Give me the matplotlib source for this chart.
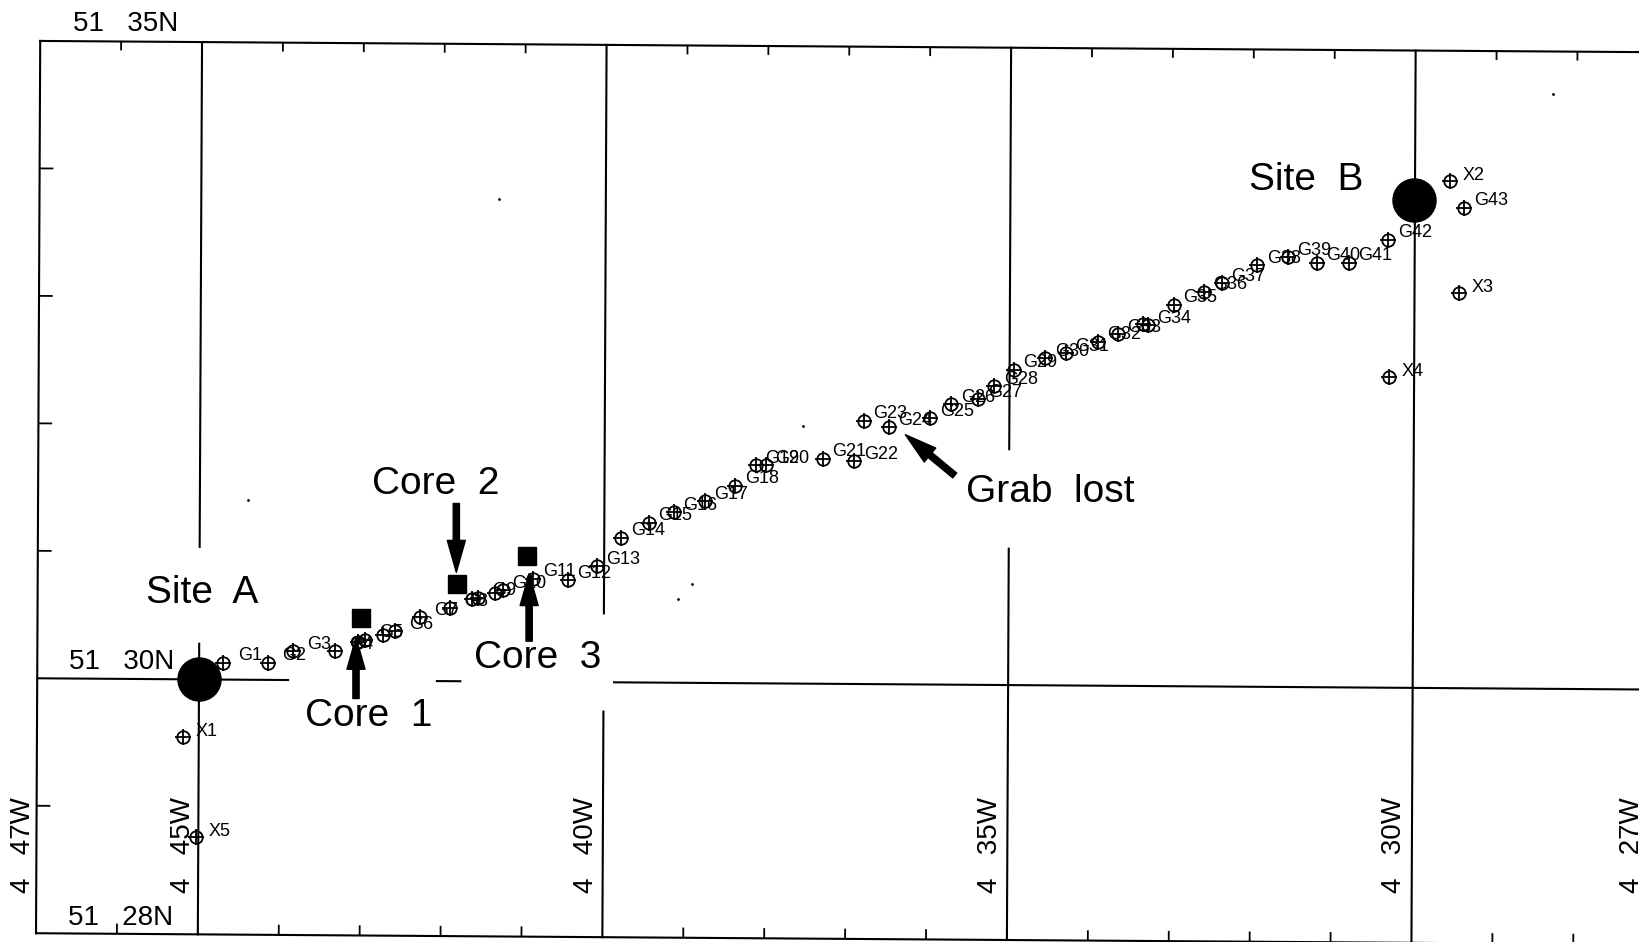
import matplotlib
matplotlib.use('Agg')
import matplotlib.pyplot as plt
from matplotlib.transforms import Affine2D

plt.rcParams['font.family'] = ['Liberation Sans', 'DejaVu Sans']

# Grab stations, minutes west of 4 deg and minutes north of 51 deg
grab_lon = [44.70, 44.15, 43.84, 43.32, 42.95, 42.58, 42.27, 41.90, 41.55, 41.24,
            40.87, 40.44, 40.08, 39.78, 39.44, 39.13, 38.75, 38.37, 38.12, 37.99,
            37.29, 36.90, 36.78, 36.47, 35.96, 35.70, 35.37, 35.17, 34.93, 34.54,
            34.29, 33.89, 33.64, 33.27, 32.95, 32.58, 32.36, 31.92, 31.54, 31.18,
            30.79, 30.30, 29.36]
grab_lat = [30.13, 30.13, 30.22, 30.22, 30.31, 30.38, 30.49, 30.56, 30.64, 30.70,
            30.79, 30.78, 30.89, 31.11, 31.23, 31.31, 31.40, 31.52, 31.68, 31.68,
            31.73, 31.71, 32.03, 31.98, 32.05, 32.16, 32.20, 32.30, 32.43, 32.52,
            32.56, 32.65, 32.71, 32.78, 32.94, 33.04, 33.11, 33.25, 33.31, 33.27,
            33.27, 33.45, 33.70]

# Stations whose labels can't be told apart in the original
extra_lon = [43.03, 42.73, 41.63, 41.34, 33.33]
extra_lat = [30.29, 30.35, 30.63, 30.68, 32.79]

x_names = ['X1', 'X2', 'X3', 'X4', 'X5']
x_lon = [45.20, 29.54, 29.43, 30.29, 45.04]
x_lat = [29.55, 33.91, 33.03, 32.37, 28.76]

site_lon = [45.00, 29.98]
site_lat = [30.00, 33.76]
core_lon = [43.00, 41.81, 40.95]
core_lat = [30.48, 30.75, 30.97]

# Dirt specks on the scan
speck_lon = [41.29, 28.26, 37.53, 38.91, 39.08, 44.39]
speck_lat = [33.77, 34.59, 31.99, 30.75, 30.63, 31.41]

# Graticule, with the gaps left for the lettering
meridians = {47: [(35, 28)], 45: [(35, 31.04), (30.28, 28)], 40: [(35, 30.54), (29.77, 28)],
             35: [(35, 31.85), (31.07, 28)], 30: [(35, 28)]}
parallels = {35: [(47, 27)], 30: [(47, 43.90), (42.06, 41.77), (39.87, 27)], 28: [(47, 27)]}
tick_lons = [46, 44, 43, 42, 41, 39, 38, 37, 36, 34, 33, 32, 31, 29, 28]
tick_lats = [34, 33, 32, 31, 29]

lat_labels = ['51   35N', '51   30N', '51   28N']
lat_label_lon = [45.91, 45.96, 45.97]
lat_label_lat = [35.14, 30.14, 28.13]
lon_labels = ['4   47W', '4   45W', '4   40W', '4   35W', '4   30W', '4   27W']
lon_label_lon = [47.18, 45.20, 40.22, 35.22, 30.23, 27.29]

# text, lon, lat
notes = [('Site  A', 44.96, 30.68), ('Site  B', 31.32, 33.92), ('Core  1', 42.90, 29.71),
         ('Core  2', 42.07, 31.53), ('Core  3', 40.81, 30.17), ('Grab  lost', 34.48, 31.47)]
# tail lon, tail lat, tip lon, tip lat
arrows = [(43.06, 29.85, 43.06, 30.33), (41.82, 31.38, 41.82, 30.84),
          (40.92, 30.30, 40.92, 30.83), (35.66, 31.60, 36.27, 31.92)]

fig = plt.figure(figsize=(16.4, 9.42), dpi=100)
ax = fig.add_axes([0, 0, 1, 1])
ax.set_xlim(47.46, 27.19)
ax.set_ylim(27.94, 35.33)
ax.axis('off')

# The scanned sheet sits slightly crooked, so the graticule is sheared a little
cx, cy = ax.transData.transform((45, 30))
tilted = ax.transData + Affine2D().translate(-cx, -cy).skew_deg(0.27, -0.4).translate(cx, cy)

for lon, parts in meridians.items():
    for top, bottom in parts:
        ax.plot([lon, lon], [top, bottom], color='k', lw=1.5, transform=tilted)
for lat, parts in parallels.items():
    for left, right in parts:
        ax.plot([left, right], [lat, lat], color='k', lw=1.5, transform=tilted)

ax.vlines(tick_lons, 35, 34.93, color='k', lw=1.3, transform=tilted)
ax.vlines(tick_lons, 28, 28.08, color='k', lw=1.3, transform=tilted)
ax.hlines(tick_lats, 47, 46.83, color='k', lw=1.3, transform=tilted)

def station(lon, lat):
    ax.plot(lon, lat, ls='none', marker='o', ms=9, mfc='none', mec='k', mew=1.3, zorder=3)
    ax.plot(lon, lat, ls='none', marker='+', ms=12, mec='k', mew=1.3, zorder=3)

station(grab_lon, grab_lat)
station(extra_lon, extra_lat)
station(x_lon, x_lat)

for i in range(len(grab_lon)):
    ax.annotate('G%d' % (i + 1), (grab_lon[i], grab_lat[i]), xytext=(19, 5), textcoords='offset points',
                ha='center', va='center', fontsize=13, color='k', zorder=2)
for name, lon, lat in zip(x_names, x_lon, x_lat):
    ax.annotate(name, (lon, lat), xytext=(17, 4), textcoords='offset points',
                ha='center', va='center', fontsize=13, color='k', zorder=2)

ax.plot(site_lon, site_lat, ls='none', marker='o', ms=31, color='k', zorder=4)
ax.plot(core_lon, core_lat, ls='none', marker='s', ms=13, color='k', zorder=4)
ax.plot(speck_lon, speck_lat, ls='none', marker='.', ms=2, color='k')

for tail_lon, tail_lat, tip_lon, tip_lat in arrows:
    ax.annotate('', xy=(tip_lon, tip_lat), xytext=(tail_lon, tail_lat),
                arrowprops=dict(width=4.5, headwidth=13, headlength=23, shrink=0, color='k'), zorder=5)

for text, lon, lat in notes:
    ax.text(lon, lat, text, ha='center', va='center', fontsize=28, color='k')
for text, lon, lat in zip(lat_labels, lat_label_lon, lat_label_lat):
    ax.text(lon, lat, text, ha='center', va='center', fontsize=20, color='k')
for text, lon in zip(lon_labels, lon_label_lon):
    ax.text(lon, 28.70, text, ha='center', va='center', rotation=90, fontsize=20, color='k')

plt.savefig('out.png', dpi=100)
